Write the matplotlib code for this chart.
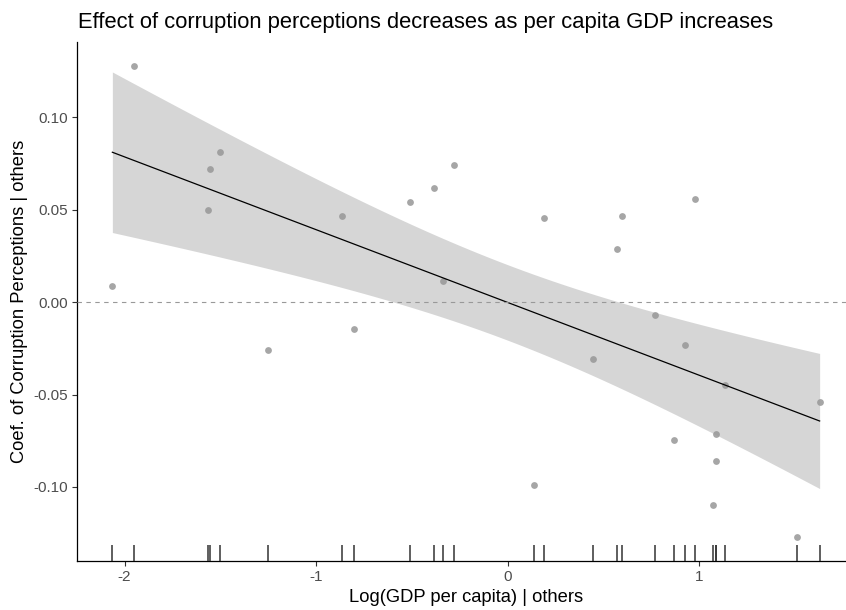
import numpy as np
import matplotlib
matplotlib.use("Agg")
import matplotlib.pyplot as plt

plt.rcParams['font.family'] = ['Liberation Sans', 'DejaVu Sans']
plt.rcParams['axes.unicode_minus'] = False

# partial residuals: log GDP per capita vs corruption coefficient (both net of other covariates)
log_gdp = [-2.064, -1.952, -1.564, -1.553, -1.503, -1.249, -0.864, -0.803,
           -0.509, -0.382, -0.335, -0.278, 0.137, 0.191, 0.445, 0.573,
           0.600, 0.770, 0.868, 0.929, 0.981, 1.071, 1.091, 1.091,
           1.137, 1.510, 1.630]
coef_cp = [0.0088, 0.1280, 0.0498, 0.0723, 0.0813, -0.0261, 0.0464, -0.0143,
           0.0543, 0.0619, 0.0117, 0.0740, -0.0988, 0.0457, -0.0308, 0.0290,
           0.0464, -0.0070, -0.0744, -0.0232, 0.0556, -0.1096, -0.0713, -0.0862,
           -0.0450, -0.1273, -0.0538]

x = np.array(log_gdp)
y = np.array(coef_cp)

# OLS fit with 95% confidence band (like geom_smooth(method = "lm"))
n = len(x)
slope, intercept = np.polyfit(x, y, 1)
resid = y - (intercept + slope * x)
s = np.sqrt(np.sum(resid ** 2) / (n - 2))
t_crit = 2.060  # t(0.975, df = 25)
xs = np.linspace(x.min(), x.max(), 80)
fit = intercept + slope * xs
se = s * np.sqrt(1 / n + (xs - x.mean()) ** 2 / np.sum((x - x.mean()) ** 2))

fig = plt.figure(figsize=(8.46, 6.10), dpi=100)
ax = fig.add_axes([77 / 846, 49 / 610, 778 / 846, 519 / 610])

ax.scatter(x, y, s=24, color='black', alpha=0.35, linewidths=0, zorder=2)
ax.fill_between(xs, fit - t_crit * se, fit + t_crit * se, color='#999999', alpha=0.4,
                linewidth=0, zorder=3)
ax.plot(xs, fit, color='black', linewidth=0.9, zorder=4)
ax.axhline(0, color='#999999', linewidth=0.8, linestyle=(0, (4, 4)), zorder=5)

# rug along the x axis
ax.vlines(x, 0, 0.03, transform=ax.get_xaxis_transform(), color='#333333',
          linewidth=1.1, zorder=6)

xr = x.max() - x.min()
yr = y.max() - y.min()
ax.set_xlim(x.min() - 0.05 * xr, x.max() + 0.05 * xr)
ax.set_ylim(y.min() - 0.05 * yr, y.max() + 0.05 * yr)

ax.set_xticks([-2, -1, 0, 1])
ax.set_xticklabels(['-2', '-1', '0', '1'])
ax.set_yticks([-0.10, -0.05, 0.0, 0.05, 0.10])
ax.set_yticklabels(['-0.10', '-0.05', '0.00', '0.05', '0.10'])
ax.tick_params(colors='#333333', labelcolor='#4D4D4D', labelsize=11, length=3.5,
               width=0.8, pad=3)

for side in ['top', 'right']:
    ax.spines[side].set_visible(False)
for side in ['left', 'bottom']:
    ax.spines[side].set_color('black')
    ax.spines[side].set_linewidth(0.9)

fig.text(78 / 846, 1 - 28 / 610, 'Effect of corruption perceptions decreases as per capita GDP increases',
         fontsize=15.8, color='black', ha='left', va='baseline')
fig.text(20 / 846, 1 - 301.5 / 610, 'Coef. of Corruption Perceptions | others',
         fontsize=13.2, rotation=90, ha='center', va='center')
fig.text(466 / 846, 1 - 597 / 610, 'Log(GDP per capita) | others',
         fontsize=13.2, ha='center', va='center')

fig.savefig('out.png', dpi=100)
